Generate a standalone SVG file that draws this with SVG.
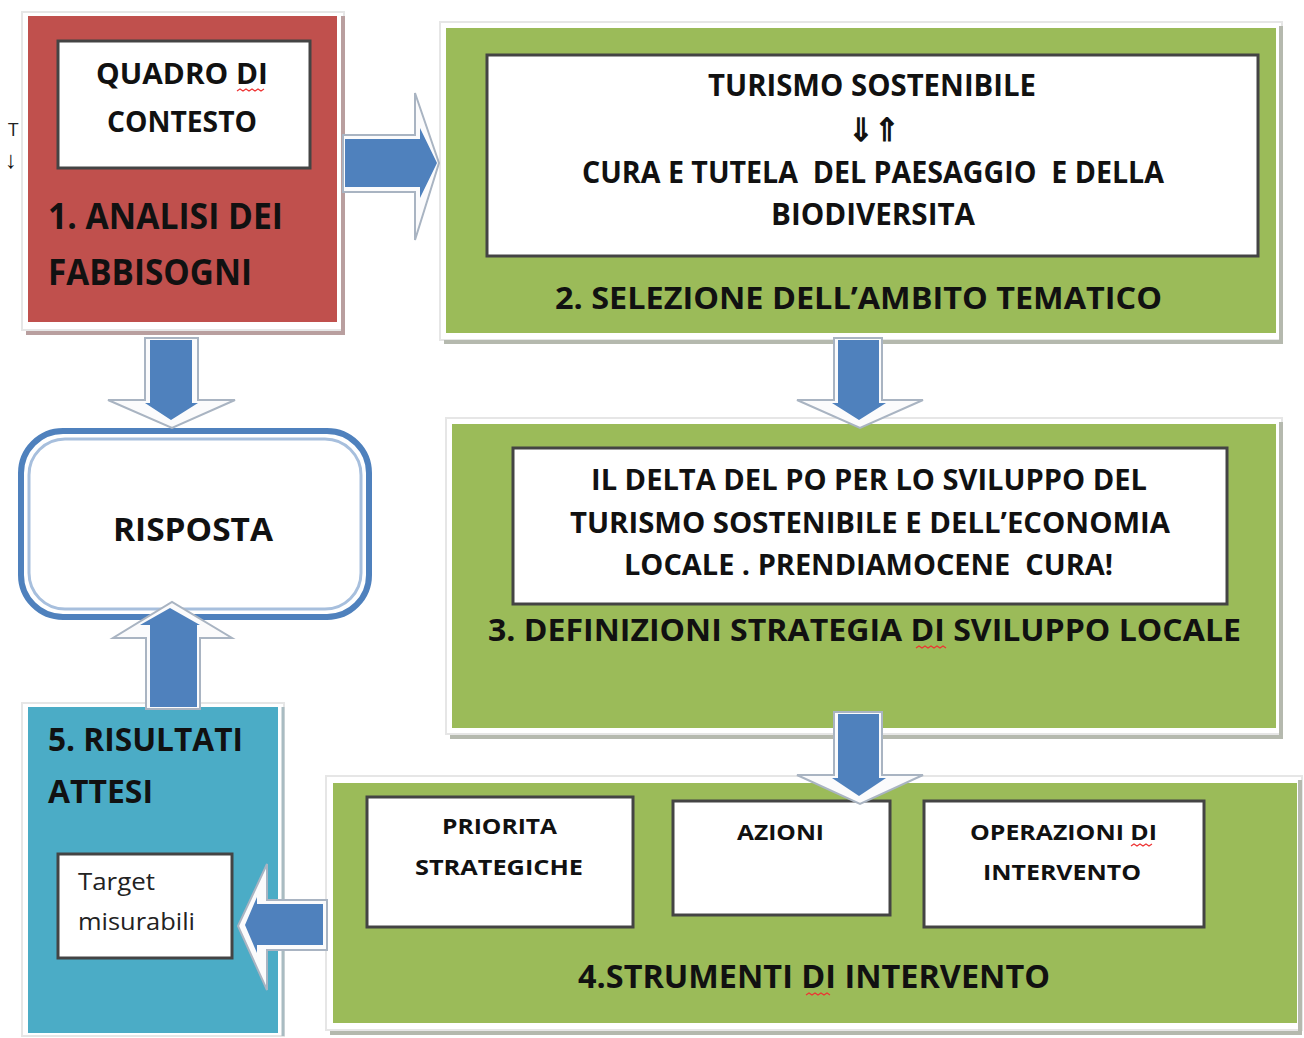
<svg xmlns="http://www.w3.org/2000/svg" width="1304" height="1038" viewBox="0 0 1304 1038">
<defs>
<style>
text{white-space:pre;}
.t{font-family:"Open Sans","Liberation Sans",sans-serif;font-weight:bold;fill:#111;}
.n{font-family:"Open Sans","Liberation Sans",sans-serif;font-weight:normal;fill:#222;}
.frame{fill:#fff;stroke:#e6e6e6;stroke-width:2;}
.inner{fill:#fff;stroke:#444;stroke-width:3;}
.glow{fill:#fbfbfc;stroke:#a9b4c2;stroke-width:2;}
.blue{fill:#4f81bd;}
.sq{fill:none;stroke:#e33;stroke-width:1.2;}
</style>
</defs>
<rect width="1304" height="1038" fill="#fff"/>

<text class="n" x="8" y="136" font-size="19">T</text>
<text class="t" x="5" y="168" font-size="24">↓</text>

<g id="node1">
<rect class="frame" x="22" y="12" width="322" height="318"/>
<path d="M343 16 V333 H26" fill="none" stroke="#b99f9f" stroke-width="4"/>
<rect x="28" y="16" width="309" height="306" fill="#c0504d"/>
<rect class="inner" x="58" y="41" width="252" height="127"/>
<text class="t" x="96" y="84" font-size="28" textLength="172" lengthAdjust="spacingAndGlyphs">QUADRO DI</text>
<path class="sq" d="M237 91 l3 -2 l3 2 l3 -2 l3 2 l3 -2 l3 2 l3 -2 l3 2 l3 -2"/>
<text class="t" x="107" y="132" font-size="28" textLength="150" lengthAdjust="spacingAndGlyphs">CONTESTO</text>
<text class="t" x="48" y="229" font-size="35" textLength="235" lengthAdjust="spacingAndGlyphs">1. ANALISI DEI</text>
<text class="t" x="48" y="285" font-size="35" textLength="204" lengthAdjust="spacingAndGlyphs">FABBISOGNI</text>
</g>

<g id="node2">
<rect class="frame" x="440" y="22" width="842" height="318"/>
<path d="M1281 26 V342 H444" fill="none" stroke="#b5b9ae" stroke-width="4"/>
<rect x="446" y="28" width="830" height="305" fill="#9bbb59"/>
<rect class="inner" x="487" y="55" width="771" height="201"/>
<text class="t" x="708" y="96" font-size="30" textLength="328" lengthAdjust="spacingAndGlyphs">TURISMO SOSTENIBILE</text>
<text class="t" x="848" y="141" font-size="32" textLength="52" lengthAdjust="spacingAndGlyphs">⇓⇑</text>
<text class="t" x="582" y="183" font-size="30" textLength="582" lengthAdjust="spacingAndGlyphs">CURA E TUTELA  DEL PAESAGGIO  E DELLA</text>
<text class="t" x="771" y="225" font-size="30" textLength="204" lengthAdjust="spacingAndGlyphs">BIODIVERSITA</text>
<text class="t" x="555" y="309" font-size="31" textLength="607" lengthAdjust="spacingAndGlyphs">2. SELEZIONE DELL’AMBITO TEMATICO</text>
</g>

<g id="node3">
<rect class="frame" x="446" y="418" width="836" height="316"/>
<path d="M1281 422 V737 H450" fill="none" stroke="#b5b9ae" stroke-width="4"/>
<rect x="452" y="424" width="824" height="304" fill="#9bbb59"/>
<rect class="inner" x="513" y="448" width="714" height="156"/>
<text class="t" x="591" y="490" font-size="29" textLength="556" lengthAdjust="spacingAndGlyphs">IL DELTA DEL PO PER LO SVILUPPO DEL</text>
<text class="t" x="570" y="533" font-size="29" textLength="600" lengthAdjust="spacingAndGlyphs">TURISMO SOSTENIBILE E DELL’ECONOMIA</text>
<text class="t" x="624" y="575" font-size="29" textLength="489" lengthAdjust="spacingAndGlyphs">LOCALE . PRENDIAMOCENE  CURA!</text>
<text class="t" x="488" y="641" font-size="30" textLength="753" lengthAdjust="spacingAndGlyphs">3. DEFINIZIONI STRATEGIA DI SVILUPPO LOCALE</text>
<path class="sq" d="M916 648 l3 -2 l3 2 l3 -2 l3 2 l3 -2 l3 2 l3 -2 l3 2 l3 -2 l3 2"/>
</g>

<g id="node4">
<rect class="frame" x="326" y="776" width="976" height="254"/>
<path d="M1300 780 V1033 H330" fill="none" stroke="#b5b9ae" stroke-width="4"/>
<rect x="333" y="783" width="964" height="240" fill="#9bbb59"/>
<rect class="inner" x="367" y="797" width="266" height="130"/>
<rect class="inner" x="673" y="801" width="217" height="114"/>
<rect class="inner" x="924" y="801" width="280" height="126"/>
<text class="t" x="442" y="834" font-size="22" textLength="115" lengthAdjust="spacingAndGlyphs">PRIORITA</text>
<text class="t" x="415" y="875" font-size="22" textLength="168" lengthAdjust="spacingAndGlyphs">STRATEGICHE</text>
<text class="t" x="737" y="840" font-size="22" textLength="87" lengthAdjust="spacingAndGlyphs">AZIONI</text>
<text class="t" x="970" y="840" font-size="22" textLength="187" lengthAdjust="spacingAndGlyphs">OPERAZIONI DI</text>
<path class="sq" d="M1131 846 l3 -2 l3 2 l3 -2 l3 2 l3 -2 l3 2 l3 -2"/>
<text class="t" x="983" y="880" font-size="22" textLength="158" lengthAdjust="spacingAndGlyphs">INTERVENTO</text>
<text class="t" x="578" y="988" font-size="32" textLength="472" lengthAdjust="spacingAndGlyphs">4.STRUMENTI DI INTERVENTO</text>
<path class="sq" d="M806 995 l3 -2 l3 2 l3 -2 l3 2 l3 -2 l3 2 l3 -2 l3 2"/>
</g>

<g id="node5">
<rect class="frame" x="22" y="703" width="262" height="333"/>
<path d="M283 707 V1036" fill="none" stroke="#a9bcc2" stroke-width="3"/>
<rect x="28" y="707" width="250" height="326" fill="#4bacc6"/>
<rect class="inner" x="58" y="854" width="174" height="104"/>
<text class="t" x="48" y="751" font-size="32" textLength="195" lengthAdjust="spacingAndGlyphs">5. RISULTATI</text>
<text class="t" x="48" y="803" font-size="32" textLength="105" lengthAdjust="spacingAndGlyphs">ATTESI</text>
<text class="n" x="78" y="890" font-size="24" textLength="77" lengthAdjust="spacingAndGlyphs">Target</text>
<text class="n" x="78" y="930" font-size="24" textLength="117" lengthAdjust="spacingAndGlyphs">misurabili</text>
</g>

<g id="risposta">
<rect x="21" y="431" width="348" height="186" rx="42" fill="#fff" stroke="#4f81bd" stroke-width="6"/>
<rect x="29" y="439" width="332" height="170" rx="36" fill="none" stroke="#a7bfdd" stroke-width="3"/>
<text class="t" x="113" y="541" font-size="33" textLength="160" lengthAdjust="spacingAndGlyphs">RISPOSTA</text>
</g>

<g id="connectors">
<polygon class="glow" points="343,135 415,135 415,93 439,163 415,240 415,192 343,192"/>
<polygon class="blue" points="345,139 420,139 420,128 437,163 420,198 420,187 345,187"/>

<polygon class="glow" points="145,338 198,338 198,400 235,400 172,428 108,400 145,400"/>
<polygon class="blue" points="150,340 192,340 192,403 198,403 171,420 145,403 150,403"/>

<polygon class="glow" points="834,338 882,338 882,400 923,400 860,428 797,400 834,400"/>
<polygon class="blue" points="838,340 879,340 879,403 886,403 859,420 832,403 838,403"/>

<polygon class="glow" points="834,712 882,712 882,775 923,775 860,804 797,775 834,775"/>
<polygon class="blue" points="838,714 879,714 879,778 886,778 859,796 832,778 838,778"/>

<polygon class="glow" points="146,709 200,709 200,638 232,638 172,602 113,638 146,638"/>
<polygon class="blue" points="150,707 197,707 197,625 200,625 170,608 140,625 150,625"/>

<polygon class="glow" points="327,900 267,900 267,864 238,926 267,990 267,950 327,950"/>
<polygon class="blue" points="323,904 257,904 257,897 245,925 257,953 257,945 323,945"/>
</g>
</svg>
